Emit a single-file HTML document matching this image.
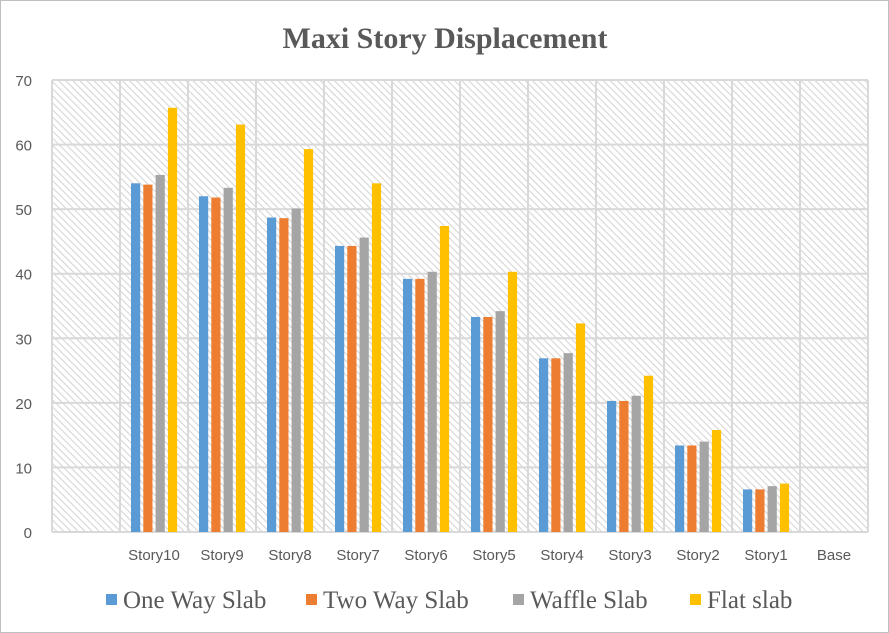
<!DOCTYPE html>
<html><head><meta charset="utf-8"><style>
html,body{margin:0;padding:0;background:#fff;}
svg{display:block;}
</style></head><body>
<svg id="chart" width="889" height="633" viewBox="0 0 889 633" xmlns="http://www.w3.org/2000/svg">
<defs>
<pattern id="hatch" width="5" height="5" patternUnits="userSpaceOnUse" patternTransform="rotate(45)">
<rect width="5" height="5" fill="#fff"/>
<line x1="0" y1="0" x2="5" y2="0" stroke="#d6d6d6" stroke-width="2.2"/>
</pattern>
</defs>
<rect x="0.5" y="0.5" width="888" height="632" fill="#fff" stroke="#bfbfbf"/>
<text x="445" y="48" text-anchor="middle" font-family="Liberation Serif, serif" font-weight="bold" font-size="30" fill="#595959">Maxi Story Displacement</text>
<rect x="52" y="80" width="816" height="452" fill="url(#hatch)"/>
<g id="grid"></g>
<g id="bars"></g>
<g id="axes"></g>
<g id="legend"></g>
</svg>
<script>
const categories = ["", "Story10","Story9","Story8","Story7","Story6","Story5","Story4","Story3","Story2","Story1","Base"];
const oneWay  = [null, 54.0, 52.0, 48.7, 44.3, 39.2, 33.3, 26.9, 20.3, 13.4, 6.6, 0];
const twoWay  = [null, 53.8, 51.8, 48.6, 44.3, 39.2, 33.3, 26.9, 20.3, 13.4, 6.6, 0];
const waffle  = [null, 55.3, 53.3, 50.1, 45.6, 40.3, 34.2, 27.7, 21.1, 14.0, 7.1, 0];
const flat    = [null, 65.7, 63.1, 59.3, 54.0, 47.4, 40.3, 32.3, 24.2, 15.8, 7.5, 0];
const yTicks  = [0,10,20,30,40,50,60,70];
const seriesNames = ["One Way Slab","Two Way Slab","Waffle Slab","Flat slab"];
const seriesColors = ["#5b9bd5","#ed7d31","#a5a5a5","#ffc000"];
const series = [oneWay, twoWay, waffle, flat];

const NS="http://www.w3.org/2000/svg";
const L=52,R=868,T=80,B=532,yMax=70;
const bw=(R-L)/categories.length;
const y=v=>B-(v/yMax)*(B-T);
const xc=i=>L+bw*(i+0.5);
function mk(tag,attrs,parent){const e=document.createElementNS(NS,tag);for(const k in attrs)e.setAttribute(k,attrs[k]);parent.appendChild(e);return e;}
const grid=document.getElementById('grid'),bars=document.getElementById('bars'),axes=document.getElementById('axes'),legend=document.getElementById('legend');

yTicks.forEach(t=>{
  const ln=mk('line',{x1:L,x2:R,y1:y(t),y2:y(t),stroke:'#d9d9d9','stroke-width':2},grid);
  
  
  const tx=mk('text',{x:32,y:y(t)+6,'text-anchor':'end','font-family':'Liberation Sans, sans-serif','font-size':15,fill:'#595959'},axes);
  tx.textContent=t;
  
  
});
for(let i=0;i<=categories.length;i++){
  const x=L+bw*i;
  const ln=mk('line',{x1:x,x2:x,y1:T,y2:B,stroke:'#d9d9d9','stroke-width':2},grid);
  
  
}
const barW=9.2,pitch=12.3;
categories.forEach((c,i)=>{
  series.forEach((s,k)=>{
    const v=s[i]; if(v===null||v===undefined) return;
    const x=xc(i)-23+k*pitch;
    const r=mk('rect',{x:x,y:y(v),width:barW,height:B-y(v),fill:seriesColors[k]},bars);
    
    
  });
  if(c){
    const tx=mk('text',{x:xc(i),y:560,'text-anchor':'middle','font-family':'Liberation Sans, sans-serif','font-size':15,fill:'#595959'},axes);
    tx.textContent=c;
    
    
  }
});
const legX=[106,306,513,690];
seriesNames.forEach((n,k)=>{
  const g=mk('g',{},legend);
  
  
  mk('rect',{x:legX[k],y:594,width:11,height:11,fill:seriesColors[k]},g);
  const tx=mk('text',{x:legX[k]+17,y:608,'font-family':'Liberation Serif, serif','font-size':25,fill:'#595959'},g);
  tx.textContent=n;
});
</script>
</body></html>
